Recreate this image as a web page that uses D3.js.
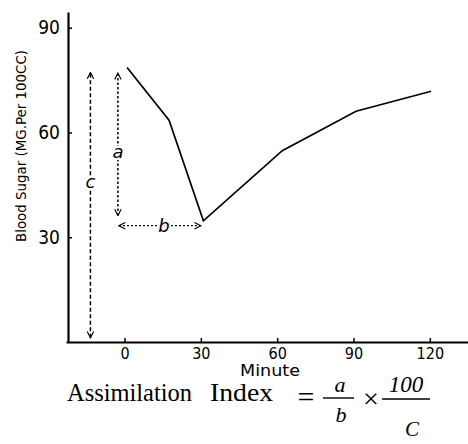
<!DOCTYPE html>
<html><head><meta charset="utf-8">
<script src="https://cdn.jsdelivr.net/npm/d3@7"></script>
<style>body{margin:0;background:#fff}</style>
</head><body>
<svg id="c" width="468" height="444"></svg>
<script>
// ---- data ----
const minutes = [1, 17.5, 31, 62, 91, 120.5];
const sugar   = [78.6, 63.5, 34.7, 54.8, 66.1, 71.8];
const xTicks  = [0, 30, 60, 90, 120];
const yTicks  = [30, 60, 90];
// annotation arrows: [minute, from, to]
const arrowC  = [-13.4, 1.2, 77.2];
const arrowA  = [-2.6, 36.2, 77.0];
// horizontal arrow b: [sugar, fromMinute, toMinute]
const arrowB  = [33.3, -2.2, 30];

const svg = d3.select("#c");
const x = d3.scaleLinear().domain([-23, 135]).range([66, 468]);
const y = d3.scaleLinear().domain([0, 94.5]).range([342, 12]);
const cond = "'DejaVu Sans Condensed','DejaVu Sans',sans-serif";

const defs = svg.append("defs");
defs.append("marker").attr("id","ah").attr("viewBox","0 0 10 10")
  .attr("refX",9).attr("refY",5).attr("markerWidth",8).attr("markerHeight",8)
  .attr("markerUnits","userSpaceOnUse").attr("orient","auto-start-reverse")
  .append("path").attr("d","M1,1 L9,5 L1,9").attr("fill","none")
  .attr("stroke","#000").attr("stroke-width",1.4);

// axes
const gx = svg.append("g").attr("transform","translate(0,342)")
  .call(d3.axisBottom(x).tickValues(xTicks).tickSize(-4).tickSizeOuter(0).tickPadding(6));
const gy = svg.append("g").attr("transform","translate(68,0)")
  .call(d3.axisLeft(y).tickValues(yTicks).tickSize(-4).tickSizeOuter(0).tickPadding(8));
[gx, gy].forEach(g => {
  g.select(".domain").attr("stroke","#000").attr("stroke-width",2.2);
  g.selectAll(".tick line").attr("stroke","#000").attr("stroke-width",1.5);
  g.selectAll(".tick text").attr("fill","#000").attr("font-family",cond);
});
gx.selectAll(".tick text").attr("font-size",16);
gy.selectAll(".tick text").attr("font-size",19);

// data line
svg.append("path")
  .datum(minutes.map((m,i)=>[m,sugar[i]]))
  .attr("d", d3.line().x(d=>x(d[0])).y(d=>y(d[1])))
  .attr("fill","none").attr("stroke","#000").attr("stroke-width",1.7);

// vertical arrows
function vArrow(a, dash){
  svg.append("line").attr("x1",x(a[0])).attr("x2",x(a[0]))
    .attr("y1",y(a[1])).attr("y2",y(a[2]))
    .attr("stroke","#000").attr("stroke-width",1.5).attr("stroke-dasharray",dash)
    .attr("marker-start","url(#ah)").attr("marker-end","url(#ah)");
}
vArrow(arrowC, "4,2.5");
vArrow(arrowA, "2.5,2");
svg.append("line").attr("x1",x(arrowB[1])).attr("x2",x(arrowB[2]))
  .attr("y1",y(arrowB[0])).attr("y2",y(arrowB[0]))
  .attr("stroke","#000").attr("stroke-width",1.3).attr("stroke-dasharray","2,2")
  .attr("marker-start","url(#ah)").attr("marker-end","url(#ah)");

// annotation letters
function label(t, px, py, size){
  svg.append("text").attr("x",px).attr("y",py).text(t)
    .attr("font-family","'DejaVu Sans',sans-serif").attr("font-style","italic")
    .attr("font-size",size).attr("text-anchor","middle").attr("dominant-baseline","central")
    .attr("fill","#000").attr("stroke","#fff").attr("stroke-width",4).attr("paint-order","stroke");
}
label("c", x(arrowC[0]), y(46), 18);
label("a", x(arrowA[0]), y(54.5), 18);
label("b", x(15.5), y(arrowB[0]), 18);

// axis titles
svg.append("text").attr("transform","translate(26,146) rotate(-90)")
  .attr("text-anchor","middle").attr("font-family",cond).attr("font-size",14)
  .attr("textLength",192).attr("lengthAdjust","spacingAndGlyphs")
  .text("Blood Sugar (MG.Per 100CC)");
svg.append("text").attr("x",270).attr("y",376).attr("text-anchor","middle")
  .attr("font-family",cond).attr("font-size",15)
  .attr("textLength",60).attr("lengthAdjust","spacingAndGlyphs").text("Minute");

// formula
const serif = "'Liberation Serif','DejaVu Serif',serif";
svg.append("text").attr("x",67).attr("y",401).attr("font-family",serif).attr("font-size",25)
  .attr("textLength",125).attr("lengthAdjust","spacingAndGlyphs").text("Assimilation");
svg.append("text").attr("x",210).attr("y",401).attr("font-family",serif).attr("font-size",25)
  .attr("textLength",63).attr("lengthAdjust","spacingAndGlyphs").text("Index");
svg.append("text").attr("x",306).attr("y",407).attr("text-anchor","middle").attr("font-family",serif).attr("font-size",30).text("=");
svg.append("line").attr("x1",323).attr("x2",354).attr("y1",398).attr("y2",398).attr("stroke","#000").attr("stroke-width",1.4);
svg.append("text").attr("x",340).attr("y",392).attr("text-anchor","middle").attr("font-family",serif).attr("font-style","italic").attr("font-size",22).text("a");
svg.append("text").attr("x",341).attr("y",422).attr("text-anchor","middle").attr("font-family",serif).attr("font-style","italic").attr("font-size",22).text("b");
svg.append("text").attr("x",371).attr("y",408).attr("text-anchor","middle").attr("font-family",serif).attr("font-size",28).text("×");
svg.append("line").attr("x1",382).attr("x2",430).attr("y1",399).attr("y2",399).attr("stroke","#000").attr("stroke-width",1.4);
svg.append("text").attr("x",406).attr("y",392).attr("text-anchor","middle").attr("font-family",serif).attr("font-style","italic").attr("font-size",23).text("100");
svg.append("text").attr("x",412).attr("y",436).attr("text-anchor","middle").attr("font-family",serif).attr("font-style","italic").attr("font-size",21).text("C");
</script>
</body></html>
